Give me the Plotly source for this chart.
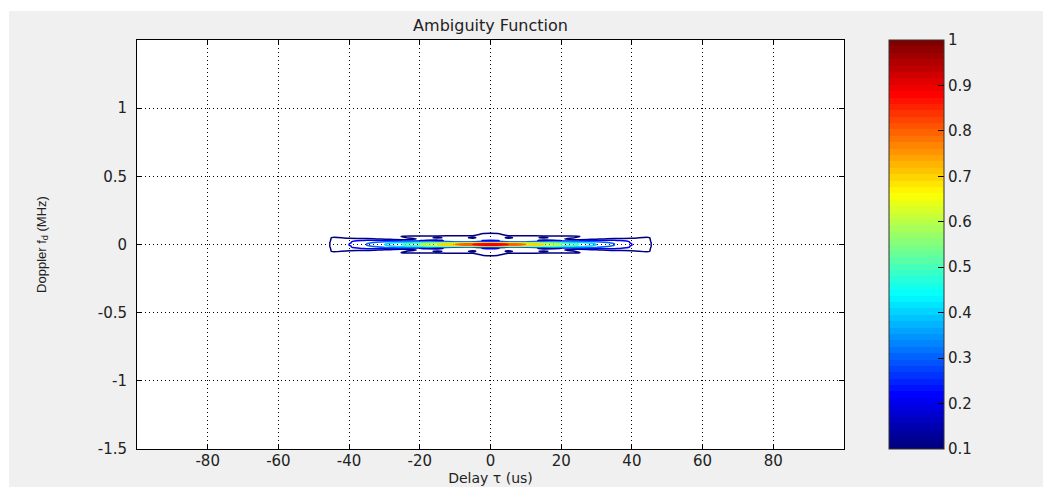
import plotly.graph_objects as go

# ---------------- data (read / estimated from the reference) ----------------
# delay tau (us), non-negative half; the surface is symmetric in tau and fd
tau_half = [0, 5, 10, 15, 20, 25, 30, 35, 40, 45, 50]
# Doppler fd (MHz), non-negative half
fd_half = [0.0, 0.005, 0.012, 0.02, 0.03, 0.04, 0.05, 0.06, 0.08, 0.10]
# normalized ambiguity magnitude, rows follow fd_half, columns follow tau_half
z_half = [
    [1.00, 0.90, 0.80, 0.70, 0.60, 0.50, 0.40, 0.30, 0.20, 0.110, 0.00],
    [0.90, 0.83, 0.75, 0.67, 0.58, 0.49, 0.39, 0.30, 0.20, 0.110, 0.00],
    [0.50, 0.52, 0.53, 0.51, 0.48, 0.43, 0.36, 0.28, 0.19, 0.110, 0.00],
    [0.05, 0.10, 0.19, 0.26, 0.30, 0.32, 0.30, 0.26, 0.19, 0.108, 0.00],
    [0.21, 0.19, 0.14, 0.08, 0.10, 0.15, 0.20, 0.21, 0.15, 0.105, 0.00],
    [0.15, 0.12, 0.15, 0.15, 0.11, 0.06, 0.09, 0.12, 0.11, 0.103, 0.00],
    [0.15, 0.09, 0.13, 0.09, 0.13, 0.09, 0.05, 0.07, 0.09, 0.100, 0.00],
    [0.13, 0.11, 0.12, 0.11, 0.11, 0.105, 0.06, 0.03, 0.06, 0.080, 0.00],
    [0.12, 0.07, 0.04, 0.03, 0.03, 0.02, 0.02, 0.02, 0.03, 0.050, 0.00],
    [0.00, 0.00, 0.00, 0.00, 0.00, 0.00, 0.00, 0.00, 0.00, 0.000, 0.00],
]

x_tick_vals = [-80, -60, -40, -20, 0, 20, 40, 60, 80]
x_tick_text = ["-80", "-60", "-40", "-20", "0", "20", "40", "60", "80"]
y_tick_vals = [-1.5, -1, -0.5, 0, 0.5, 1]
y_tick_text = ["-1.5", "-1", "-0.5", "0", "0.5", "1"]
cb_tick_vals = [0.1, 0.2, 0.3, 0.4, 0.5, 0.6, 0.7, 0.8, 0.9, 1.0]
cb_tick_text = ["0.1", "0.2", "0.3", "0.4", "0.5", "0.6", "0.7", "0.8", "0.9", "1"]

# build the full symmetric table for the library
tau = [-t for t in tau_half[:0:-1]] + tau_half
fd = [-f for f in fd_half[:0:-1]] + fd_half
rows = [r[:0:-1] + r for r in z_half]
z = rows[:0:-1] + rows

# ---------------- styling ----------------
def jet(t):
    def c(v):
        return max(0.0, min(1.0, v))
    r = c(1.5 - abs(4 * t - 3))
    g = c(1.5 - abs(4 * t - 2))
    b = c(1.5 - abs(4 * t - 1))
    return "rgb(%d,%d,%d)" % (round(r * 255), round(g * 255), round(b * 255))

N = 64
jet_scale = []
for i in range(N):
    col = jet(i / (N - 1))
    jet_scale.append([i / N, col])
    jet_scale.append([(i + 1) / N, col])

BG = "#f0f0f0"
FONT = "DejaVu Sans"
TXT = "#222222"

fig = go.Figure()

fig.add_trace(go.Contour(
    x=tau, y=fd, z=z,
    zmin=0.1, zmax=1.0, zauto=False,
    colorscale=jet_scale,
    contours=dict(start=0.1, end=1.0, size=0.1, coloring="lines"),
    line=dict(width=1.5),
    showscale=False,
    hoverinfo="skip",
))

# colorbar (continuous jet bar as in the reference)
fig.add_trace(go.Scatter(
    x=[None], y=[None], mode="markers",
    marker=dict(
        color=[0.1, 1.0], cmin=0.1, cmax=1.0, colorscale=jet_scale,
        showscale=True,
        colorbar=dict(
            x=(889 - 137) / 707, xanchor="left", xref="paper",
            y=0.5, yanchor="middle", len=1.0, lenmode="fraction",
            thickness=55, thicknessmode="pixels",
            xpad=0, ypad=0,
            outlinecolor="#333333", outlinewidth=1,
            tickvals=cb_tick_vals, ticktext=cb_tick_text,
            ticks="inside", ticklen=6, tickcolor="black",
            tickfont=dict(family=FONT, size=15, color=TXT),
            ticklabelposition="outside",
        ),
    ),
    showlegend=False, hoverinfo="skip",
))

axis_common = dict(
    showline=True, linecolor="black", linewidth=1, mirror="ticks",
    ticks="inside", ticklen=5, tickcolor="black",
    showgrid=True, gridcolor="black", gridwidth=1, griddash="1px,3px",
    zeroline=False, automargin=False,
    tickfont=dict(family=FONT, size=15, color=TXT),
)

fig.update_layout(
    width=1043, height=487,
    margin=dict(l=137, r=199, t=40, b=38, pad=0),
    paper_bgcolor=BG, plot_bgcolor="white",
    showlegend=False,
    title=dict(text="Ambiguity Function", x=0.5, xref="paper", xanchor="center",
               y=1 - 25 / 487, yref="container", yanchor="middle",
               font=dict(family=FONT, size=16, color=TXT)),
    xaxis=dict(range=[-100, 100], tickvals=x_tick_vals, ticktext=x_tick_text,
               ticklabelstandoff=-2,
               title=dict(text="Delay τ (us)", standoff=1,
                          font=dict(family=FONT, size=14, color=TXT)),
               **axis_common),
    yaxis=dict(range=[-1.5, 1.5], tickvals=y_tick_vals, ticktext=y_tick_text,
               ticklabelstandoff=6,
               title=dict(text="Doppler f<sub>d</sub> (MHz)", standoff=48,
                          font=dict(family="Liberation Sans", size=13, color=TXT)),
               **axis_common),
    shapes=[
        # white strips at the top and left of the figure, as in the reference
        dict(type="rect", xref="paper", yref="paper",
             xsizemode="pixel", xanchor=0, x0=-140, x1=910,
             ysizemode="pixel", yanchor=1, y0=29, y1=45,
             fillcolor="white", line=dict(width=0), layer="above"),
        dict(type="rect", xref="paper", yref="paper",
             xsizemode="pixel", xanchor=0, x0=-140, x1=-128,
             ysizemode="pixel", yanchor=0, y0=-45, y1=460,
             fillcolor="white", line=dict(width=0), layer="above"),
    ],
)

fig.write_html("out.html")
